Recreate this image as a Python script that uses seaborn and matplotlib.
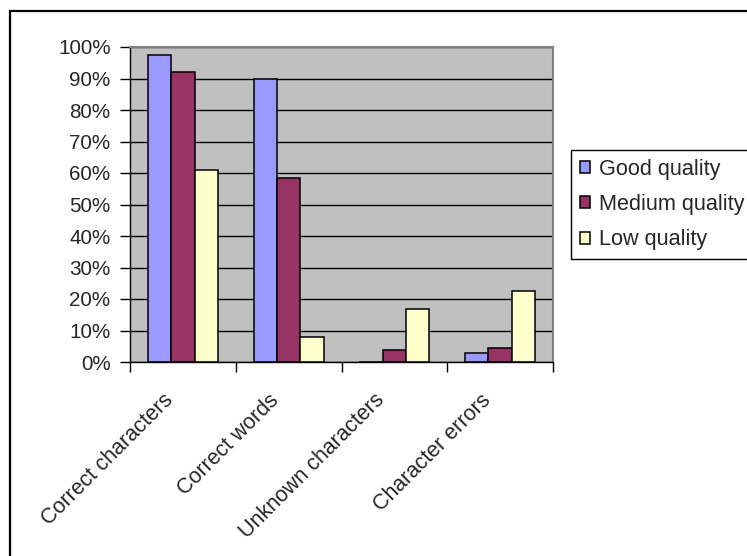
import matplotlib
matplotlib.use("Agg")
import matplotlib.pyplot as plt
import matplotlib.transforms as mtransforms
from matplotlib.patches import Rectangle
from matplotlib.ticker import FuncFormatter, FixedLocator
import seaborn as sns
import pandas as pd

categories = ["Correct characters", "Correct words", "Unknown characters", "Character errors"]
series = ["Good quality", "Medium quality", "Low quality"]
good = [97.4, 90.0, 0.0, 2.7]
medium = [92.1, 58.3, 3.7, 4.3]
low = [61.0, 8.0, 16.8, 22.6]
colors = ["#9999FF", "#993366", "#FFFFCC"]
yticks = list(range(0, 101, 10))

rows = []
for name, vals in zip(series, [good, medium, low]):
    for c, v in zip(categories, vals):
        rows.append({"category": c, "quality": name, "value": v})
df = pd.DataFrame(rows)

sns.set_style("white")
plt.rcParams["font.family"] = ["Liberation Sans", "DejaVu Sans"]
FS_Y = 14.9
FS_X = 15.5
FS_LEG = 15.6

W, H = 747, 556
fig = plt.figure(figsize=(W / 100, H / 100), dpi=100)
ax = fig.add_axes([130 / W, 1 - 362 / H, 423 / W, 315 / H])

sns.barplot(data=df, x="category", y="value", hue="quality", order=categories,
            hue_order=series, palette=colors, width=0.66, gap=0,
            edgecolor="black", linewidth=1.1, saturation=1, ax=ax, legend=True)

ax.set_facecolor("#C0C0C0")
ax.set_xlim(-0.5, len(categories) - 0.5)
ax.set_ylim(0, 100)
ax.set_yticks(yticks)
ax.yaxis.set_major_formatter(FuncFormatter(lambda v, p: f"{v:.0f}%"))
ax.set_xlabel("")
ax.set_ylabel("")
ax.set_axisbelow(True)
ax.yaxis.grid(True, color="black", linewidth=1.0)
ax.xaxis.grid(False)

for s in ["left", "bottom"]:
    ax.spines[s].set_color("black")
    ax.spines[s].set_linewidth(1.0)
for s in ["top", "right"]:
    ax.spines[s].set_color("#808080")
    ax.spines[s].set_linewidth(1.5)
    ax.spines[s].set_visible(True)

ax.tick_params(axis="y", which="major", direction="out", length=7, width=1,
               color="black", labelsize=FS_Y, pad=7, left=True)
# category boundaries as minor ticks
ax.xaxis.set_minor_locator(FixedLocator([i - 0.5 for i in range(len(categories) + 1)]))
ax.tick_params(axis="x", which="minor", direction="out", length=7, width=1,
               color="black", bottom=True)
ax.tick_params(axis="x", which="major", length=0, labelsize=FS_X, pad=20)
ax.set_xticks(range(len(categories)))
ax.set_xticklabels(categories, rotation=45, ha="right", va="top", rotation_mode="anchor")
offset = mtransforms.ScaledTranslation(-20 / 100, 0, fig.dpi_scale_trans)
for lbl in ax.get_xticklabels():
    lbl.set_transform(lbl.get_transform() + offset)

leg = ax.get_legend()
if leg is not None:
    leg.remove()
handles = [Rectangle((0, 0), 1, 1, facecolor=c, edgecolor="black", linewidth=1.1) for c in colors]
fig.legend(handles, series, loc="upper left", bbox_to_anchor=(571 / W, 1 - 150 / H),
           borderaxespad=0, frameon=True, fancybox=False, edgecolor="black",
           fontsize=FS_LEG, handlelength=0.48, handleheight=0.48, handletextpad=0.42,
           borderpad=0.4, labelspacing=0.66, framealpha=1)
fig.legends[0].get_frame().set_linewidth(1.0)

# outer chart frame (only top and left visible in the crop)
fig.add_artist(Rectangle((10 / W, -0.5), 2.0, 0.5 + 1 - 11 / H, transform=fig.transFigure,
                         facecolor="none", edgecolor="black", linewidth=1.6, clip_on=False))

fig.savefig("out.png", dpi=100)
